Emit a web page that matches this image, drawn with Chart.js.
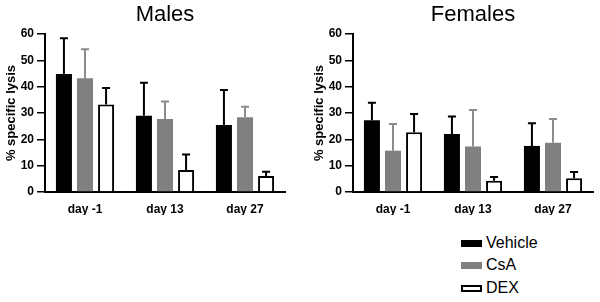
<!DOCTYPE html>
<html>
<head>
<meta charset="utf-8">
<script src="https://cdn.jsdelivr.net/npm/chart.js@4"></script>
<style>
  body { margin: 0; background: #fff; width: 600px; height: 302px; position: relative; overflow: hidden; font-family: Arial, "Liberation Sans", sans-serif; }
  .box { position: absolute; width: 300px; height: 225px; top: 0; }
  #malesBox { left: 0; }
  #femalesBox { left: 300px; }
  .leg { position: absolute; left: 461px; font-size: 16px; color: #000; display: flex; align-items: center; }
  .leg span.sw { display: inline-block; width: 21px; height: 7px; margin-right: 4px; box-sizing: border-box; }
</style>
</head>
<body>
<div class="box" id="malesBox"><canvas id="malesChart"></canvas></div>
<div class="box" id="femalesBox"><canvas id="femalesChart"></canvas></div>
<div class="leg" style="top:234px"><span class="sw" style="background:#000"></span>Vehicle</div>
<div class="leg" style="top:256px"><span class="sw" style="background:#808080"></span>CsA</div>
<div class="leg" style="top:279px"><span class="sw" style="background:#fff;border:2px solid #000"></span>DEX</div>
<script>
const days = ["day -1", "day 13", "day 27"];
const groups = ["Vehicle", "CsA", "DEX"];

// males: means and upper error (SD)
const malesVehicle = [44.8, 29.0, 25.4];
const malesVehicleErr = [13.6, 12.5, 13.3];
const malesCsA = [43.2, 27.7, 28.4];
const malesCsAErr = [11.0, 6.7, 4.0];
const malesDEX = [33.2, 8.4, 6.1];
const malesDEXErr = [6.3, 5.8, 1.6];

// females
const femalesVehicle = [27.2, 22.0, 17.5];
const femalesVehicleErr = [6.7, 6.7, 8.6];
const femalesCsA = [15.7, 17.3, 18.7];
const femalesCsAErr = [10.1, 13.8, 9.0];
const femalesDEX = [22.7, 4.3, 5.2];
const femalesDEXErr = [6.9, 1.4, 2.4];

const yTicks = [0, 10, 20, 30, 40, 50, 60];

const errorBars = {
  id: "errorBars",
  afterDatasetsDraw(chart) {
    const ctx = chart.ctx;
    const y = chart.scales.y;
    chart.data.datasets.forEach((ds, i) => {
      const meta = chart.getDatasetMeta(i);
      meta.data.forEach((bar, j) => {
        const top = y.getPixelForValue(ds.data[j] + ds.errors[j]);
        ctx.save();
        ctx.strokeStyle = ds.errColor;
        ctx.lineWidth = 2;
        ctx.beginPath();
        ctx.moveTo(bar.x, bar.y);
        ctx.lineTo(bar.x, top);
        ctx.moveTo(bar.x - 4, top);
        ctx.lineTo(bar.x + 4, top);
        ctx.stroke();
        ctx.restore();
      });
    });
  }
};

// title centred over the plot area, not the whole canvas
const panelTitle = {
  id: "panelTitle",
  afterDraw(chart, args, opts) {
    const ctx = chart.ctx;
    const a = chart.chartArea;
    ctx.save();
    ctx.fillStyle = "#000";
    ctx.font = "22px Arial, 'Liberation Sans'";
    ctx.textAlign = "center";
    ctx.textBaseline = "middle";
    ctx.fillText(opts.text, (a.left + a.right) / 2, 15);
    ctx.restore();
  }
};

function drawPanel(id, title, vehicle, vehicleErr, csa, csaErr, dex, dexErr, padLeft, padRight) {
  new Chart(document.getElementById(id), {
    type: "bar",
    data: {
      labels: days,
      datasets: [
        { label: groups[0], data: vehicle, errors: vehicleErr, backgroundColor: "#000", errColor: "#000" },
        { label: groups[1], data: csa, errors: csaErr, backgroundColor: "#808080", errColor: "#8c8c8c" },
        { label: groups[2], data: dex, errors: dexErr, backgroundColor: "#fff", borderColor: "#000", borderWidth: 2, errColor: "#000" }
      ]
    },
    options: {
      responsive: true,
      maintainAspectRatio: false,
      animation: false,
      categoryPercentage: 0.79,
      barPercentage: 0.76,
      layout: { padding: { left: padLeft, right: padRight, top: 34, bottom: 10 } },
      plugins: {
        legend: { display: false },
        tooltip: { enabled: false },
        title: { display: false },
        panelTitle: { text: title }
      },
      scales: {
        x: {
          grid: { display: false, drawTicks: false },
          border: { display: true, color: "#000", width: 2 },
          ticks: { color: "#000", font: { family: "Arial, 'Liberation Sans'", size: 12, weight: "bold" }, padding: 10 },
          afterFit: (s) => { s.height = 23; }
        },
        y: {
          min: 0,
          max: 60,
          afterBuildTicks: (s) => { s.ticks = yTicks.map((v) => ({ value: v })); },
          grid: { drawOnChartArea: false, drawTicks: true, tickLength: 8, color: "#000", lineWidth: 1.5 },
          border: { display: true, color: "#000", width: 2 },
          ticks: { color: "#000", font: { family: "Arial, 'Liberation Sans'", size: 12, weight: "bold" }, padding: 3 },
          title: {
            display: true,
            text: "% specific lysis",
            color: "#000",
            font: { family: "Arial, 'Liberation Sans'", size: 13, weight: "bold" },
            padding: { top: 4, bottom: 0 }
          },
          afterFit: (s) => { s.width = 45; }
        }
      }
    },
    plugins: [errorBars, panelTitle]
  });
}

drawPanel("malesChart", "Males", malesVehicle, malesVehicleErr, malesCsA, malesCsAErr, malesDEX, malesDEXErr, 0, 15);
drawPanel("femalesChart", "Females", femalesVehicle, femalesVehicleErr, femalesCsA, femalesCsAErr, femalesDEX, femalesDEXErr, 8, 7);
</script>
</body>
</html>
